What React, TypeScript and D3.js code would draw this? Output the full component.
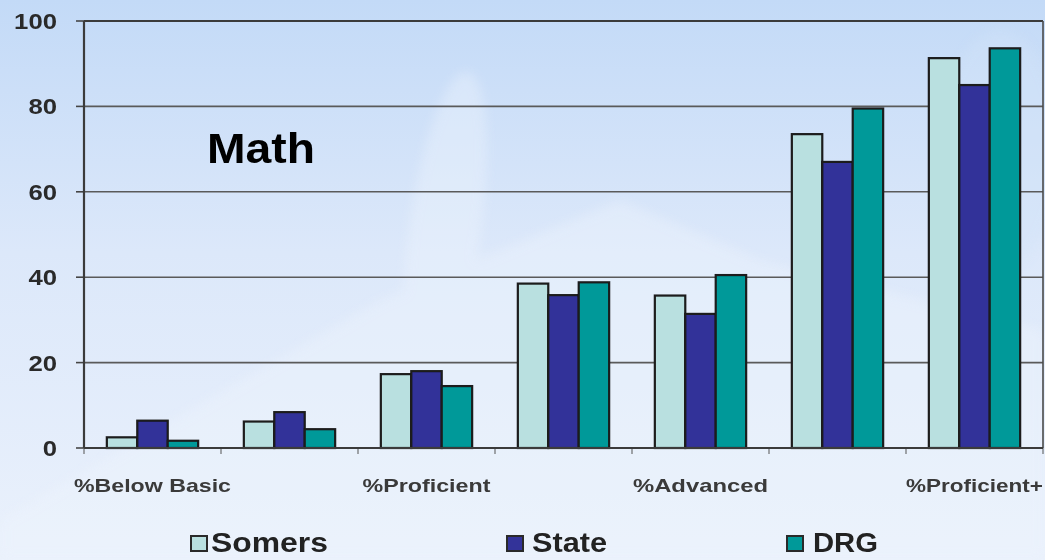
import React from "react";
import * as d3 from "d3";

const categories = ["%Below Basic", "%Basic", "%Proficient", "%Goal", "%Advanced", "%Goal+", "%Proficient+"];
const shownLabels = ["%Below Basic", "", "%Proficient", "", "%Advanced", "", "%Proficient+"];
const seriesNames = ["Somers", "State", "DRG"];
const somers = [2.5, 6.2, 17.3, 38.5, 35.7, 73.5, 91.3];
const state = [6.4, 8.4, 18.0, 35.8, 31.4, 67.0, 85.0];
const drg = [1.7, 4.4, 14.5, 38.8, 40.5, 79.5, 93.6];
const yTicks = [0, 20, 40, 60, 80, 100];
const colors = ["#b9e0e0", "#333399", "#009999"];

const W = 1045;
const H = 560;
const left = 84;
const right = 1043;
const top = 21;
const bottom = 448;

export default function App() {
  const values = [somers, state, drg];
  const x = d3.scaleBand<string>().domain(categories).range([left, right]).padding(0);
  const xs = d3
    .scaleBand<string>()
    .domain(seriesNames)
    .range([0, x.bandwidth()])
    .paddingInner(0)
    .paddingOuter(0.75);
  const y = d3.scaleLinear().domain([0, 100]).range([bottom, top]);
  const labelLen: Record<string, number> = {
    "%Below Basic": 157,
    "%Proficient": 128,
    "%Advanced": 135,
    "%Proficient+": 137,
  };
  const legendItems = [
    { name: "Somers", sq: 191, tx: 211, len: 117 },
    { name: "State", sq: 507, tx: 532, len: 75 },
    { name: "DRG", sq: 787, tx: 813, len: 65 },
  ];

  return (
    <svg
      width={W}
      height={H}
      style={{ position: "fixed", left: 0, top: 0, display: "block" }}
      fontFamily="Liberation Sans, Arial, sans-serif"
    >
      <defs>
        <linearGradient id="bg" x1="0" y1="0" x2="0" y2="1">
          <stop offset="0" stopColor="#c3daf7" />
          <stop offset="0.45" stopColor="#dce8fa" />
          <stop offset="1" stopColor="#eaf1fc" />
        </linearGradient>
        <filter id="blur" x="-20%" y="-20%" width="140%" height="140%">
          <feGaussianBlur stdDeviation="6" />
        </filter>
        <filter id="soft" x="-5%" y="-5%" width="110%" height="110%">
          <feGaussianBlur stdDeviation="0.5" />
        </filter>
      </defs>
      <rect x={0} y={0} width={W} height={H} fill="url(#bg)" />
      <g filter="url(#blur)" opacity={0.4}>
        <path d="M0,520 L380,300 L620,200 L760,260 L1045,330 L1045,560 L0,560 Z" fill="#eef4fd" />
        <ellipse cx={445} cy={230} rx={36} ry={160} fill="#eef4fd" transform="rotate(8 445 230)" />
        <ellipse cx={1000} cy={150} rx={60} ry={120} fill="#d2e3f8" />
      </g>

      <g filter="url(#soft)">
        {/* gridlines */}
        {yTicks.filter((t) => t > 0).map((t) => (
          <line key={t} x1={left} x2={right} y1={y(t)} y2={y(t)} stroke="#5a5a5a" strokeWidth={1.6} />
        ))}
        {/* y ticks */}
        {yTicks.map((t) => (
          <line key={"t" + t} x1={76} x2={left} y1={y(t)} y2={y(t)} stroke="#444" strokeWidth={1.6} />
        ))}
        {/* x ticks */}
        {categories.map((c, i) => (
          <line key={"xt" + i} x1={x(c) as number} x2={x(c) as number} y1={bottom} y2={bottom + 6} stroke="#555" strokeWidth={1} />
        ))}
        <line x1={right} x2={right} y1={bottom} y2={bottom + 6} stroke="#555" strokeWidth={1} />

        {/* bars */}
        {categories.map((c, i) => (
          <g key={c} transform={`translate(${x(c)},0)`}>
            {seriesNames.map((s, j) => {
              const v = values[j][i];
              return (
                <rect
                  key={s}
                  x={xs(s)}
                  y={y(v)}
                  width={xs.bandwidth()}
                  height={bottom - y(v)}
                  fill={colors[j]}
                  stroke="#1a1a1a"
                  strokeWidth={2.2}
                />
              );
            })}
          </g>
        ))}

        {/* plot border */}
        <line x1={left} x2={left} y1={top} y2={bottom} stroke="#3a3a3a" strokeWidth={2.2} />
        <line x1={left} x2={right} y1={top} y2={top} stroke="#3a3a3a" strokeWidth={2.2} />
        <line x1={right} x2={right} y1={top} y2={bottom} stroke="#4a4a4a" strokeWidth={1.6} />
        <line x1={left} x2={right} y1={bottom} y2={bottom} stroke="#3a3a3a" strokeWidth={2.2} />
      </g>

      {/* y labels */}
      {yTicks.map((t) => {
        const s = String(t);
        return (
          <text
            key={"yl" + t}
            x={57}
            y={y(t) + 8}
            textAnchor="end"
            fontSize={22}
            fontWeight="bold"
            fill="#2a2a2a"
            textLength={14.3 * s.length}
            lengthAdjust="spacingAndGlyphs"
          >
            {s}
          </text>
        );
      })}

      {/* x labels */}
      {categories.map((c, i) =>
        shownLabels[i] ? (
          <text
            key={"xl" + i}
            x={(x(c) as number) + x.bandwidth() / 2 - labelLen[shownLabels[i]] / 2}
            y={492}
            fontSize={19}
            fontWeight="bold"
            fill="#3a3a3a"
            textLength={labelLen[shownLabels[i]]}
            lengthAdjust="spacingAndGlyphs"
          >
            {shownLabels[i]}
          </text>
        ) : null
      )}

      {/* title */}
      <text x={207} y={163} fontSize={43} fontWeight="bold" fill="#000" textLength={108} lengthAdjust="spacingAndGlyphs">
        Math
      </text>

      {/* legend */}
      {legendItems.map((it, j) => (
        <g key={it.name}>
          <rect x={it.sq} y={536} width={16} height={15} fill={colors[j]} stroke="#2a2a2a" strokeWidth={2} />
          <text
            x={it.tx}
            y={552}
            fontSize={27}
            fontWeight="bold"
            fill="#222"
            textLength={it.len}
            lengthAdjust="spacingAndGlyphs"
          >
            {it.name}
          </text>
        </g>
      ))}
    </svg>
  );
}
